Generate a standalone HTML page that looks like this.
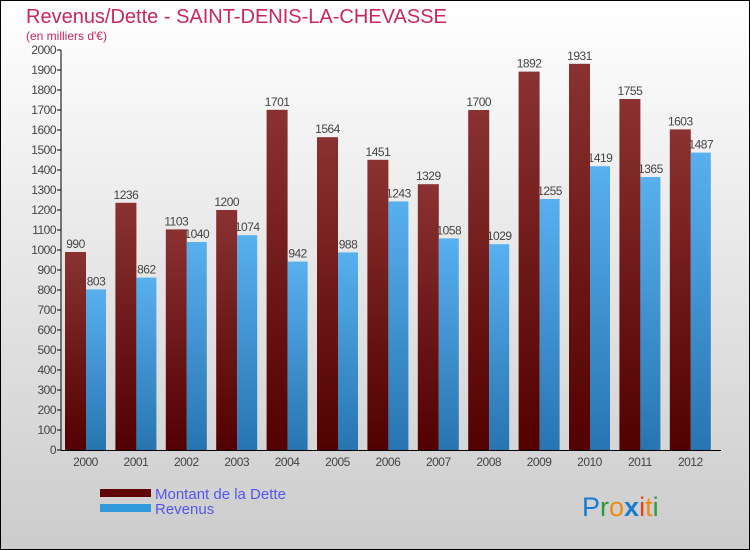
<!DOCTYPE html>
<html><head><meta charset="utf-8"><style>
body{margin:0}
#c{width:750px;height:550px;position:relative;overflow:hidden;font-family:"Liberation Sans",sans-serif}
</style></head><body>
<div id="c">
<svg width="750" height="550" xmlns="http://www.w3.org/2000/svg" id="svg">
<defs>
<linearGradient id="bg" x1="0" y1="0" x2="0" y2="1"><stop offset="0" stop-color="#ffffff"/><stop offset="1" stop-color="#cccccc"/></linearGradient>
<linearGradient id="gd" x1="0" y1="0" x2="0" y2="1"><stop offset="0" stop-color="#8a3232"/><stop offset="1" stop-color="#520000"/></linearGradient>
<linearGradient id="gr" x1="0" y1="0" x2="0" y2="1"><stop offset="0" stop-color="#58b0ee"/><stop offset="1" stop-color="#2775b0"/></linearGradient>
</defs>
<rect x="0.5" y="0.5" width="749" height="549" fill="url(#bg)" stroke="#000"/>
<text x="26" y="23" font-size="20" fill="#c8285a">Revenus/Dette - SAINT-DENIS-LA-CHEVASSE</text>
<text x="26" y="40" font-size="12" fill="#c8285a">(en milliers d'€)</text>
<g id="grid"></g><g id="bars"></g><g id="axes"></g>
<rect x="100" y="489" width="51" height="8" fill="#600000"/>
<rect x="100" y="504" width="51" height="8" fill="#3399dd"/>
<text x="155" y="499" font-size="15" fill="#5555ee">Montant de la Dette</text>
<text x="155" y="514" font-size="15" fill="#5555ee">Revenus</text>
<text x="582" y="516" font-size="27"><tspan fill="#1a7ad0">P</tspan><tspan fill="#2a9a3a">r</tspan><tspan fill="#f08a10">o</tspan><tspan fill="#1a7ad0" font-weight="bold">x</tspan><tspan fill="#e84010">i</tspan><tspan fill="#f08a10">t</tspan><tspan fill="#2a9a3a">i</tspan></text>
</svg>
</div>
<script>
const years=["2000","2001","2002","2003","2004","2005","2006","2007","2008","2009","2010","2011","2012"];
const dette=[990,1236,1103,1200,1701,1564,1451,1329,1700,1892,1931,1755,1603];
const revenus=[803,862,1040,1074,942,988,1243,1058,1029,1255,1419,1365,1487];
const yTicks=[0,100,200,300,400,500,600,700,800,900,1000,1100,1200,1300,1400,1500,1600,1700,1800,1900,2000];
const NS="http://www.w3.org/2000/svg";
const y=v=>450-v*0.2;
const xc=i=>85.5+i*50.4;
function mk(t,a,p){const e=document.createElementNS(NS,t);for(const k in a)e.setAttribute(k,a[k]);document.getElementById(p).appendChild(e);return e;}
yTicks.forEach(v=>{
 const l=mk('line',{x1:57,x2:61,y1:y(v),y2:y(v),stroke:'#000'},'axes');
 
 
 const t=mk('text',{x:56,y:y(v)+4,'font-size':12,'text-anchor':'end',fill:'#444','letter-spacing':'-0.5'},'axes');
 t.textContent=v;
 
 
});
years.forEach((yr,i)=>{
 const cx=xc(i);
 const b1=mk('rect',{x:cx-20.5,y:y(dette[i]),width:21,height:450-y(dette[i]),fill:'url(#gd)'},'bars');
 
 
 const b2=mk('rect',{x:cx+0.5,y:y(revenus[i]),width:20,height:450-y(revenus[i]),fill:'url(#gr)'},'bars');
 
 
 const t1=mk('text',{x:cx-10,y:y(dette[i])-4,'font-size':12,'text-anchor':'middle',fill:'#444','letter-spacing':'-0.5'},'bars');
 t1.textContent=dette[i];
 
 
 const t2=mk('text',{x:cx+10.5,y:y(revenus[i])-4,'font-size':12,'text-anchor':'middle',fill:'#444','letter-spacing':'-0.5'},'bars');
 t2.textContent=revenus[i];
 
 
 const xl=mk('text',{x:cx,y:466,'font-size':12,'text-anchor':'middle',fill:'#444','letter-spacing':'-0.5'},'axes');
 xl.textContent=yr;
 
 
});
const ya=mk('line',{x1:61,x2:61,y1:50,y2:450,stroke:'#000'},'axes');


const xa=mk('line',{x1:61,x2:721,y1:450.5,y2:450.5,stroke:'#000'},'axes');


</script>
</body></html>
